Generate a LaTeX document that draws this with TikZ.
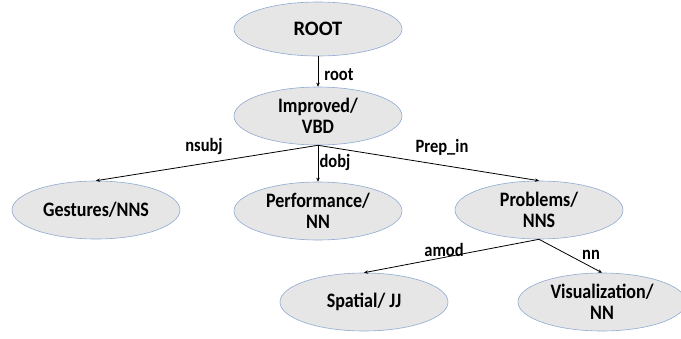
\documentclass[tikz,border=0pt]{standalone}
\usepackage{fontspec}
\usepackage{graphicx}
\setmainfont{Carlito}
\usetikzlibrary{shapes.geometric,arrows.meta}
\definecolor{nodefill}{RGB}{231,230,230}
\definecolor{nodeline}{RGB}{143,170,210}
\newcommand{\vs}[1]{\scalebox{1}[1.14]{#1}}
\tikzset{
  tok/.style={ellipse, draw=nodeline, line width=0.6pt, fill=nodefill, inner sep=0pt,
    minimum width=168pt, minimum height=58pt, align=center,
    font=\fontsize{18}{21}\selectfont\bfseries},
  dep/.style={draw=black, line width=0.8pt, -{Stealth[length=4pt,width=3.5pt]}},
  lab/.style={inner sep=0pt, font=\fontsize{16.5}{18}\selectfont\bfseries}
}
\begin{document}
\begin{tikzpicture}[x=1pt,y=-1pt]
\useasboundingbox (0,0) rectangle (681,338);
\node[tok, minimum height=54pt, font=\fontsize{20.5}{22}\selectfont\bfseries] (root) at (318,29) {ROOT};
\node[tok] (imp) at (318,116) {\vs{Improved/}\\\vs{VBD}};
\node[tok] (ges) at (96,210) {\vs{Gestures/NNS}};
\node[tok] (perf) at (318,211) {\vs{Performance/}\\\vs{NN}};
\node[tok] (prob) at (539,210) {\vs{Problems/}\\\vs{NNS}};
\node[tok] (spat) at (364,302) {\vs{Spatial/ JJ}};
\node[tok] (vis) at (602,302) {\vs{Visualization/}\\\vs{NN}};
\draw[dep] (root.south) -- (imp.north);
\draw[dep] (imp.south) -- (ges.north);
\draw[dep] (imp.south) -- (perf.north);
\draw[dep] (imp.south) -- (prob.north);
\draw[dep] (prob.south) -- (spat.north);
\draw[dep] (prob.south) -- (vis.north);
\node[lab] (lroot) at (339,75) {\vs{root}};
\node[lab] (lnsubj) at (204,146) {\vs{nsubj}};
\node[lab] (ldobj) at (335,162) {\vs{dobj}};
\node[lab] (lprep) at (442,147) {\vs{Prep\_in}};
\node[lab] (lamod) at (444,250) {\vs{amod}};
\node[lab] (lnn) at (591,255) {\vs{nn}};
\end{tikzpicture}
\end{document}
